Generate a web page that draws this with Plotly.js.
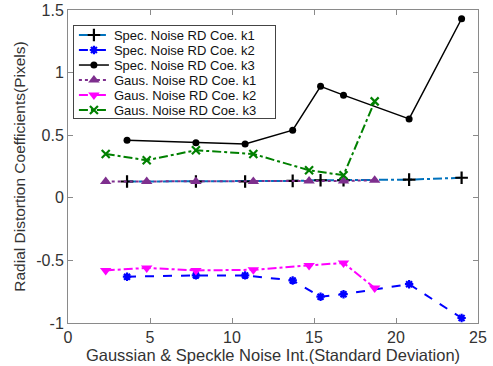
<!DOCTYPE html>
<html>
<head>
<meta charset="utf-8">
<script src="https://cdn.plot.ly/plotly-3.0.1.min.js"></script>
<style>html,body{margin:0;padding:0;background:#fff;}#chart{width:493px;height:366px;}</style>
</head>
<body>
<div id="chart"></div>
<script>
// Noise intensity (standard deviation) for the two noise types
const specX = [3.6, 7.8, 10.8, 13.7, 15.4, 16.8, 20.8, 24.0];
const gausX = [2.3, 4.8, 7.8, 11.3, 14.7, 16.8, 18.7];

// Speckle noise radial distortion coefficients
const specK1 = [0.13, 0.13, 0.13, 0.135, 0.14, 0.14, 0.145, 0.16];
const specK2 = [-0.63, -0.62, -0.62, -0.66, -0.79, -0.77, -0.69, -0.96];
const specK3 = [0.46, 0.44, 0.43, 0.54, 0.89, 0.82, 0.63, 1.43];

// Gaussian noise radial distortion coefficients
const gausK1 = [0.13, 0.13, 0.13, 0.13, 0.135, 0.135, 0.14];
const gausK2 = [-0.58, -0.56, -0.58, -0.575, -0.54, -0.52, -0.72];
const gausK3 = [0.35, 0.30, 0.38, 0.35, 0.22, 0.18, 0.77];

const seriesNames = [
  'Spec. Noise RD Coe. k1', 'Spec. Noise RD Coe. k2', 'Spec. Noise RD Coe. k3',
  'Gaus. Noise RD Coe. k1', 'Gaus. Noise RD Coe. k2', 'Gaus. Noise RD Coe. k3'
];
const xTicks = [0, 5, 10, 15, 20, 25];
const yTicks = [-1, -0.5, 0, 0.5, 1, 1.5];

const FONT = 'Liberation Sans, Arial, sans-serif';

const traces = [
  {x: specX, y: specK1, name: seriesNames[0], mode: 'lines+markers',
   line: {color: '#0072BD', width: 2, dash: 'dashdot'},
   marker: {symbol: 'cross-thin-open', size: 9, color: '#000', line: {color: '#000', width: 2.2}}},
  {x: specX, y: specK2, name: seriesNames[1], mode: 'lines+markers',
   line: {color: '#0000FF', width: 2, dash: 'dash'},
   marker: {symbol: 'asterisk-open', size: 7, color: '#0000FF', line: {color: '#0000FF', width: 2.2}}},
  {x: specX, y: specK3, name: seriesNames[2], mode: 'lines+markers',
   line: {color: '#000', width: 1.5, dash: 'solid'},
   marker: {symbol: 'circle', size: 7, color: '#000'}},
  {x: gausX, y: gausK1, name: seriesNames[3], mode: 'lines+markers',
   line: {color: '#7E2F8E', width: 2, dash: 'dot'},
   marker: {symbol: 'triangle-up', size: 10, color: '#7E2F8E'}},
  {x: gausX, y: gausK2, name: seriesNames[4], mode: 'lines+markers',
   line: {color: '#FF00FF', width: 2, dash: 'dashdot'},
   marker: {symbol: 'triangle-down', size: 10, color: '#FF00FF'}},
  {x: gausX, y: gausK3, name: seriesNames[5], mode: 'lines+markers',
   line: {color: '#008000', width: 2, dash: 'dashdot'},
   marker: {symbol: 'x-thin-open', size: 8, color: '#008000', line: {color: '#008000', width: 2.2}}}
];

const axisCommon = {
  showgrid: false, zeroline: false, showline: true, linecolor: '#8a8a8a', linewidth: 1,
  mirror: 'ticks', ticks: 'inside', ticklen: 5, tickcolor: '#8a8a8a',
  tickfont: {family: FONT, size: 16, color: '#333'}
};

const layout = {
  width: 493, height: 366,
  margin: {l: 68, r: 15, t: 10, b: 43},
  paper_bgcolor: '#fff', plot_bgcolor: '#fff',
  showlegend: true,
  legend: {
    x: 0.012, y: 0.952, xanchor: 'left', yanchor: 'top',
    bgcolor: '#fff', bordercolor: '#444', borderwidth: 1,
    font: {family: FONT, size: 13, color: '#111'},
    tracegroupgap: 0, itemwidth: 30
  },
  xaxis: Object.assign({}, axisCommon, {
    range: [0, 25], tickvals: xTicks, ticktext: xTicks.map(String),
    title: {text: 'Gaussian & Speckle Noise Int.(Standard Deviation)', standoff: 2,
            font: {family: FONT, size: 16.5, color: '#333'}}
  }),
  yaxis: Object.assign({}, axisCommon, {
    range: [-1, 1.5], tickvals: yTicks, ticktext: yTicks.map(String),
    title: {text: 'Radial Distortion Coefficients(Pixels)', standoff: 6,
            font: {family: FONT, size: 15.5, color: '#333'}}
  })
};

Plotly.newPlot('chart', traces, layout, {displayModeBar: false, staticPlot: true}).then(function (gd) {
  // tighten the legend rows to the compact spacing of the original figure
  const leg = gd.querySelector('.legend');
  if (!leg) return;
  const step = 15, first = 10;
  const items = leg.querySelectorAll('g.traces');
  items.forEach(function (el, i) {
    const m = /translate\(\s*([-\d.]+)[ ,]+([-\d.]+)\s*\)/.exec(el.getAttribute('transform') || '');
    const x = m ? parseFloat(m[1]) : 2;
    el.setAttribute('transform', 'translate(' + x + ',' + (first + i * step) + ')');
  });
  const bg = leg.querySelector('rect.bg');
  if (bg) {
    bg.setAttribute('height', first + (items.length - 1) * step + 8);
    bg.setAttribute('width', 202);
  }
});
</script>
</body>
</html>
